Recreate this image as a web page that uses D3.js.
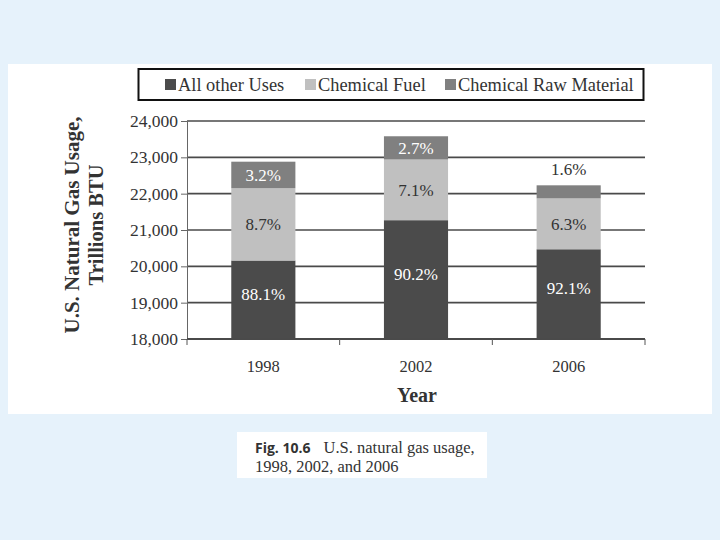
<!DOCTYPE html>
<html>
<head>
<meta charset="utf-8">
<script src="https://cdn.jsdelivr.net/npm/d3@7/dist/d3.min.js"></script>
<style>
  html, body { margin: 0; padding: 0; background: #e6f2fb; }
  svg { display: block; }
</style>
</head>
<body>
<svg id="chart" width="720" height="540"></svg>
<script>
// ---- Data ----
const years = ["1998", "2002", "2006"];
const seriesNames = ["All other Uses", "Chemical Fuel", "Chemical Raw Material"];
const allOtherUses = [20160, 21270, 20470];
const chemicalFuel = [1990, 1670, 1400];
const chemicalRawMaterial = [730, 640, 360];
const labelsOther = ["88.1%", "90.2%", "92.1%"];
const labelsFuel = ["8.7%", "7.1%", "6.3%"];
const labelsRaw = ["3.2%", "2.7%", "1.6%"];
const yTicks = [18000, 19000, 20000, 21000, 22000, 23000, 24000];

const colors = { "All other Uses": "#4b4b4b", "Chemical Fuel": "#c0c0c0", "Chemical Raw Material": "#808080" };
const labelColors = { "All other Uses": "#ffffff", "Chemical Fuel": "#333333", "Chemical Raw Material": "#ffffff" };

const rows = years.map((yr, i) => ({
  year: yr,
  "All other Uses": allOtherUses[i],
  "Chemical Fuel": chemicalFuel[i],
  "Chemical Raw Material": chemicalRawMaterial[i],
  labels: { "All other Uses": labelsOther[i], "Chemical Fuel": labelsFuel[i], "Chemical Raw Material": labelsRaw[i] }
}));

const svg = d3.select("#chart");
const serif = "'Liberation Serif', 'DejaVu Serif', serif";

// White panel
svg.append("rect").attr("x", 8).attr("y", 64).attr("width", 704).attr("height", 350).attr("fill", "#ffffff");
// Caption box
svg.append("rect").attr("x", 237).attr("y", 432).attr("width", 250).attr("height", 46).attr("fill", "#ffffff");

const pLeft = 187, pRight = 645, pTop = 121, pBottom = 339;
const x = d3.scaleBand().domain(years).range([pLeft, pRight]).paddingInner(0.58).paddingOuter(0.29);
const y = d3.scaleLinear().domain([18000, 24000]).range([pBottom, pTop]);
const yc = v => y(Math.max(v, 18000));

// gridlines
svg.append("g").selectAll("line").data(yTicks.slice(1)).join("line")
  .attr("x1", pLeft).attr("x2", pRight)
  .attr("y1", d => y(d)).attr("y2", d => y(d))
  .attr("stroke", "#4a4a4a").attr("stroke-width", 1.6);

// Y axis
const yAxis = svg.append("g").attr("transform", `translate(${pLeft},0)`)
  .call(d3.axisLeft(y).tickValues(yTicks).tickFormat(d3.format(",")).tickSize(6).tickPadding(3));
yAxis.select(".domain").attr("stroke", "#666").attr("stroke-width", 1);
yAxis.selectAll(".tick line").attr("stroke", "#666");
yAxis.selectAll("text").attr("font-family", serif).attr("font-size", 17.5).attr("fill", "#333");

// Stacked bars
const stacked = d3.stack().keys(seriesNames)(rows);

const g = svg.append("g");
stacked.forEach(layer => {
  g.selectAll(null).data(layer).join("rect")
    .attr("x", d => x(d.data.year))
    .attr("width", x.bandwidth())
    .attr("y", d => yc(d[1]))
    .attr("height", d => yc(d[0]) - yc(d[1]))
    .attr("fill", colors[layer.key]);
});

// X axis
const xAxisLine = svg.append("g");
xAxisLine.append("line").attr("x1", pLeft).attr("x2", pRight).attr("y1", pBottom).attr("y2", pBottom)
  .attr("stroke", "#4a4a4a").attr("stroke-width", 2);
const sepTicks = [pLeft].concat(years.map(yr => x(yr) + x.bandwidth() / 2 + x.step() / 2));
xAxisLine.selectAll("line.t").data(sepTicks).join("line").attr("class", "t")
  .attr("x1", d => d).attr("x2", d => d).attr("y1", pBottom).attr("y2", pBottom + 6)
  .attr("stroke", "#555").attr("stroke-width", 1);
svg.append("g").selectAll("text").data(years).join("text")
  .attr("x", d => x(d) + x.bandwidth() / 2).attr("y", 372)
  .attr("text-anchor", "middle").attr("font-family", serif).attr("font-size", 16.5).attr("fill", "#333")
  .text(d => d);

// Segment labels
stacked.forEach(layer => {
  g.selectAll(null).data(layer).join("text")
    .attr("x", d => x(d.data.year) + x.bandwidth() / 2)
    .attr("y", d => {
      const t = yc(d[1]), b = yc(d[0]);
      if (b - t < 20) return t - 10;           // small segment: label above bar
      let c = (t + b) / 2;
      if (layer.key === "All other Uses") c -= 6;
      return c + 6;
    })
    .attr("text-anchor", "middle")
    .attr("font-family", serif).attr("font-size", 17)
    .attr("fill", d => (yc(d[0]) - yc(d[1]) < 20) ? "#333" : labelColors[layer.key])
    .text(d => d.data.labels[layer.key]);
});

// Axis titles
svg.append("text").attr("transform", "translate(79,225) rotate(-90)")
  .attr("text-anchor", "middle").attr("font-family", serif).attr("font-size", 21).attr("font-weight", "bold")
  .attr("fill", "#333").text("U.S. Natural Gas Usage,");
svg.append("text").attr("transform", "translate(103,225) rotate(-90)")
  .attr("text-anchor", "middle").attr("font-family", serif).attr("font-size", 20.5).attr("font-weight", "bold")
  .attr("fill", "#333").text("Trillions BTU");
svg.append("text").attr("x", 417).attr("y", 402).attr("text-anchor", "middle")
  .attr("font-family", serif).attr("font-size", 20).attr("font-weight", "bold").attr("fill", "#333").text("Year");

// Legend
svg.append("rect").attr("x", 138.5).attr("y", 69).attr("width", 505).attr("height", 31)
  .attr("fill", "#fff").attr("stroke", "#111").attr("stroke-width", 2);
const legendX = [165, 305, 445];
const leg = svg.append("g").selectAll("g").data(seriesNames).join("g")
  .attr("transform", (d, i) => `translate(${legendX[i]},79)`);
leg.append("rect").attr("width", 11).attr("height", 11).attr("fill", d => colors[d]);
leg.append("text").attr("x", 13).attr("y", 11.5).attr("font-family", serif).attr("font-size", 18.4)
  .attr("fill", "#333").text(d => d);

// Caption
const cap = svg.append("text").attr("x", 255).attr("y", 453).attr("font-size", 16.5).attr("fill", "#333");
cap.append("tspan").attr("font-family", "'Open Sans', 'DejaVu Sans', sans-serif").attr("font-weight", "bold")
  .attr("font-size", 14).text("Fig. 10.6");
cap.append("tspan").attr("font-family", serif).attr("dx", 13).text("U.S. natural gas usage,");
svg.append("text").attr("x", 255).attr("y", 472).attr("font-size", 16.5).attr("fill", "#333")
  .attr("font-family", serif).text("1998, 2002, and 2006");
</script>
</body>
</html>
